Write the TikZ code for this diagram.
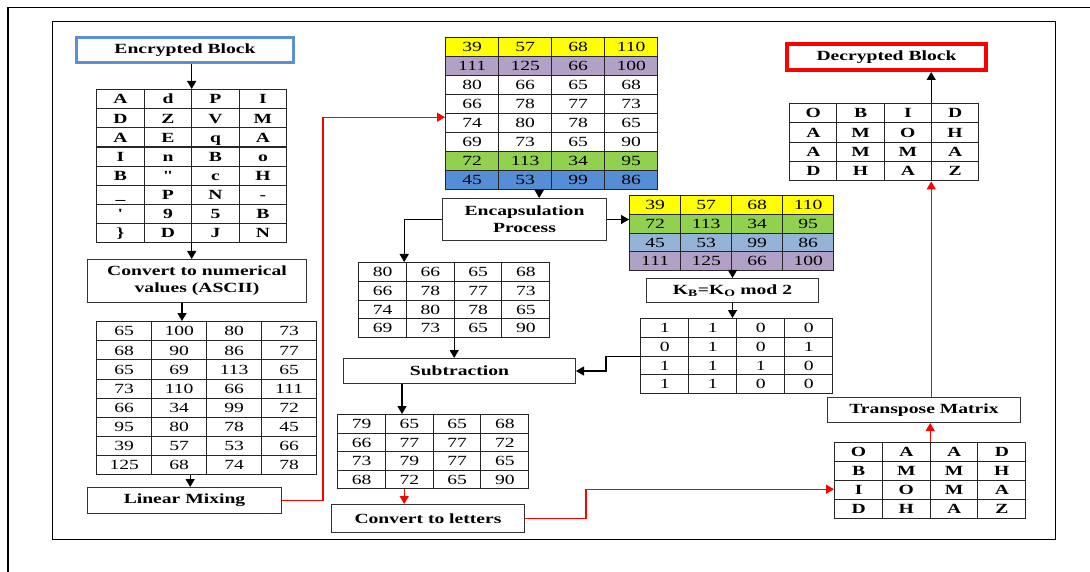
\documentclass[tikz,border=0pt]{standalone}
\usepackage{fontspec}
\setmainfont{Liberation Serif}[FakeStretch=1.4]
\newfontfamily\plainserif{Liberation Serif}[FakeStretch=1.4]
\usetikzlibrary{matrix,calc,arrows.meta}
\definecolor{cyel}{HTML}{FFFF00}
\definecolor{cpur}{HTML}{B2A1C7}
\definecolor{cgrn}{HTML}{92D050}
\definecolor{cblu}{HTML}{558ED5}
\definecolor{cbll}{HTML}{95B3D7}
\definecolor{cbord}{HTML}{5B8FD6}
\tikzset{
  lbl/.style={font=\fontsize{14}{17}\selectfont\bfseries},
  box/.style={draw=black!80, line width=1pt, fill=white, lbl, align=center, inner sep=0pt},
  grid/.style n args={2}{matrix of nodes, inner sep=0pt, column sep=-1pt, row sep=-1pt,
    nodes={draw=black!85, line width=1pt, minimum width=#1, minimum height=#2, inner sep=0pt,
      text height=9.3pt, text depth=0pt, anchor=center, font=\fontsize{14}{16}\selectfont}},
  letters/.style={nodes={font=\fontsize{14}{16}\selectfont\bfseries}},
  arr/.style={draw=black, line width=1.4pt, -{Triangle[length=8pt,width=9pt]}},
  rarr/.style={draw=red, line width=1.3pt, -{Triangle[length=8pt,width=9pt]}},
}
\begin{document}
\begin{tikzpicture}[x=1pt,y=-1pt]
\useasboundingbox (0,0) rectangle (1090,572);
% frames
\draw[line width=1.5pt] (8,572) -- (8,7.5) -- (1090,7.5);
\draw[line width=1pt] (52,22) rectangle (1055,539);

% boxes
\node[box, draw=cbord, line width=3pt, minimum width=217pt, minimum height=25pt] (enc) at (185,50) {Encrypted Block};
\node[box, minimum width=219pt, minimum height=43pt] (conv) at (197,281) {Convert to numerical\\values (ASCII)};
\node[box, minimum width=194pt, minimum height=26pt] (lin) at (184.5,500.5) {Linear Mixing};
\node[box, minimum width=164pt, minimum height=42pt] (encap) at (524.5,219.5) {Encapsulation\\Process};
\node[box, minimum width=172pt, minimum height=24pt] (kb) at (732.5,290.5) {K\textsubscript{B}=K\textsubscript{O} mod 2};
\node[box, minimum width=232pt, minimum height=25pt] (sub) at (459.5,371) {Subtraction};
\node[box, minimum width=193pt, minimum height=28pt] (ctl) at (428,518.5) {Convert to letters};
\node[box, minimum width=193pt, minimum height=25pt] (trans) at (924,410) {Transpose Matrix};
\node[box, draw=red, line width=4pt, minimum width=199pt, minimum height=26pt] (dec) at (886.5,57) {Decrypted Block};

% matrices
\matrix (m1) [grid={47.5pt}{19.1pt}, letters, anchor=north west] at (96,89) {
A & d & P & I \\
D & Z & V & M \\
A & E & q & A \\
I & n & B & o \\
B & {\plainserif\bfseries "} & c & H \\
\_ & P & N & - \\
{\plainserif\bfseries '} & 9 & 5 & B \\
\} & D & J & N \\
};
\matrix (ascii) [grid={55pt}{19.1pt}, anchor=north west] at (96,321) {
65 & 100 & 80 & 73 \\
68 & 90 & 86 & 77 \\
65 & 69 & 113 & 65 \\
73 & 110 & 66 & 111 \\
66 & 34 & 99 & 72 \\
95 & 80 & 78 & 45 \\
39 & 57 & 53 & 66 \\
125 & 68 & 74 & 78 \\
};
\matrix (mt) [grid={53pt}{19pt}, anchor=north west,
  row 1/.style={nodes={fill=cyel}}, row 2/.style={nodes={fill=cpur}},
  row 7/.style={nodes={fill=cgrn}}, row 8/.style={nodes={fill=cblu}}] at (445,37) {
39 & 57 & 68 & 110 \\
111 & 125 & 66 & 100 \\
80 & 66 & 65 & 68 \\
66 & 78 & 77 & 73 \\
74 & 80 & 78 & 65 \\
69 & 73 & 65 & 90 \\
72 & 113 & 34 & 95 \\
45 & 53 & 99 & 86 \\
};
\matrix (cm2) [grid={51pt}{18.75pt}, anchor=north west,
  row 1/.style={nodes={fill=cyel}}, row 2/.style={nodes={fill=cgrn}},
  row 3/.style={nodes={fill=cbll}}, row 4/.style={nodes={fill=cpur}}] at (629,195) {
39 & 57 & 68 & 110 \\
72 & 113 & 34 & 95 \\
45 & 53 & 99 & 86 \\
111 & 125 & 66 & 100 \\
};
\matrix (m3) [grid={47.75pt}{18.75pt}, anchor=north west] at (358,262) {
80 & 66 & 65 & 68 \\
66 & 78 & 77 & 73 \\
74 & 80 & 78 & 65 \\
69 & 73 & 65 & 90 \\
};
\matrix (bin) [grid={48pt}{18.75pt}, anchor=north west] at (640,318) {
1 & 1 & 0 & 0 \\
0 & 1 & 0 & 1 \\
1 & 1 & 1 & 0 \\
1 & 1 & 0 & 0 \\
};
\matrix (m4) [grid={47.75pt}{18.5pt}, anchor=north west] at (337,414) {
79 & 65 & 65 & 68 \\
66 & 77 & 77 & 72 \\
73 & 79 & 77 & 65 \\
68 & 72 & 65 & 90 \\
};
\matrix (m5) [grid={47.75pt}{19pt}, letters, anchor=north west] at (834,442) {
O & A & A & D \\
B & M & M & H \\
I & O & M & A \\
D & H & A & Z \\
};
\matrix (m6) [grid={47.25pt}{19.25pt}, letters, anchor=north west] at (789,103) {
O & B & I & D \\
A & M & O & H \\
A & M & M & A \\
D & H & A & Z \\
};

% connectors
\draw[arr] (enc.south -| m1.north) -- (m1.north);
\draw[arr] (m1.south) -- (m1.south |- conv.north);
\coordinate (c1) at ($(conv.south)+(-15,0)$);
\draw[arr] (c1) -- (c1 |- ascii.north);
\coordinate (c2) at ($(ascii.south)+(-16.5,0)$);
\draw[arr] (c2) -- (c2 |- lin.north);
\draw[rarr] (lin.east) -- ++(41,0) |- ($(mt.west)+(0,3.5)$);
\coordinate (c3) at ($(mt.south)+(-12.5,0)$);
\draw[arr] (c3) -- (c3 |- encap.north);
\draw[arr] (encap.east) -- (encap.east -| cm2.west);
\coordinate (c4) at ($(m3.north)+(-50,0)$);
\draw[arr] (encap.west) -| (c4);
\draw[arr] (m3.south) -- (m3.south |- sub.north);
\draw[arr] (kb.north |- cm2.south) -- (kb.north);
\draw[arr] (kb.south) -- (kb.south |- bin.north);
\draw[arr] (bin.west) -- ++(-34,0) |- (sub.east);
\coordinate (c5) at ($(sub.south)+(-57.5,0)$);
\draw[arr] (c5) -- (c5 |- m4.north);
\coordinate (c6) at ($(m4.south)+(-29,0)$);
\draw[rarr] (c6) -- (c6 |- ctl.north);
\draw[rarr] (ctl.east) -- ++(61,0) |- ($(m5.west)+(0,8.5)$);
\draw[rarr] (m5.north) -- (m5.north |- trans.south);
\coordinate (c7) at ($(m5.north)+(1,0)$);
\draw[rarr] (c7 |- trans.north) -- (c7 |- m6.south);
\draw[arr] (c7 |- m6.north) -- (c7 |- dec.south);
\end{tikzpicture}
\end{document}
